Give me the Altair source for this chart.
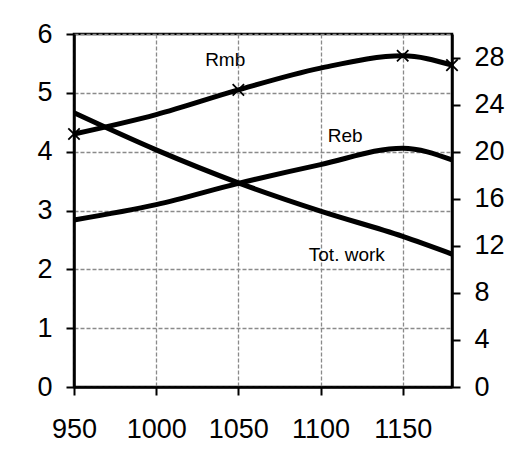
import altair as alt
import pandas as pd

years = [950, 1000, 1050, 1100, 1150, 1180]
rmb = [4.30, 4.63, 5.05, 5.42, 5.63, 5.47]
reb = [2.84, 3.10, 3.46, 3.78, 4.06, 3.86]
tot_work = [23.3, 20.15, 17.35, 14.95, 12.8, 11.3]  # right axis units

marker_years = [950, 1050, 1150, 1180]
marker_rmb = [4.30, 5.05, 5.63, 5.47]

label_text = ["Rmb", "Reb", "Tot. work"]
label_x = [1042, 1115, 1116]
label_y = [5.46, 4.17, 2.15]

x_ticks = [950, 1000, 1050, 1100, 1150]
left_ticks = [0, 1, 2, 3, 4, 5, 6]
right_ticks = [0, 4, 8, 12, 16, 20, 24, 28]

FONT = "Liberation Sans"

df_left = pd.DataFrame(
    {"year": years * 2, "value": rmb + reb, "series": ["Rmb"] * 6 + ["Reb"] * 6}
)
df_right = pd.DataFrame({"year": years, "value": tot_work})
df_mark = pd.DataFrame({"year": marker_years, "value": marker_rmb})
df_lab = pd.DataFrame({"year": label_x, "value": label_y, "text": label_text})

xscale = alt.Scale(domain=[950, 1180], nice=False, zero=False)
yleft = alt.Scale(domain=[0, 6], nice=False)
yright = alt.Scale(domain=[0, 30], nice=False)

common = dict(
    title=None, domainColor="black", domainWidth=2.5, tickColor="black",
    tickWidth=2, tickSize=8, labelFont=FONT, labelFontSize=27, labelColor="black",
    labelFlush=False, labelOverlap=False, format="d",
)

xaxis = alt.Axis(
    values=x_ticks, grid=True, gridDash=[4, 2], gridColor="#8a8a8a",
    gridWidth=1.3, labelPadding=21, **common,
)
yaxis_left = alt.Axis(
    values=left_ticks, grid=True, gridDash=[4, 2], gridColor="#8a8a8a",
    gridWidth=1.3, labelPadding=14, **common,
)
yaxis_right = alt.Axis(
    values=right_ticks, grid=False, orient="right", labelPadding=14, **common,
)

lines_left = alt.Chart(df_left).mark_line(
    color="black", strokeWidth=5, interpolate="monotone"
).encode(
    x=alt.X("year:Q", scale=xscale, axis=xaxis),
    y=alt.Y("value:Q", scale=yleft, axis=yaxis_left),
    detail="series:N",
)

markers = alt.Chart(df_mark).mark_point(
    shape="M-1,-1L1,1M1,-1L-1,1", color="black", size=130, strokeWidth=1.8,
    filled=False, opacity=1,
).encode(
    x=alt.X("year:Q", scale=xscale),
    y=alt.Y("value:Q", scale=yleft),
)

labels = alt.Chart(df_lab).mark_text(
    font=FONT, fontSize=19, color="black", align="center", baseline="alphabetic"
).encode(
    x=alt.X("year:Q", scale=xscale),
    y=alt.Y("value:Q", scale=yleft),
    text="text:N",
)

left = alt.layer(lines_left, markers, labels)

right = alt.Chart(df_right).mark_line(
    color="black", strokeWidth=5, interpolate="monotone"
).encode(
    x=alt.X("year:Q", scale=xscale),
    y=alt.Y("value:Q", scale=yright, axis=yaxis_right),
)

chart = (
    alt.layer(left, right)
    .resolve_scale(y="independent")
    .properties(
        width=378, height=353,
        autosize=alt.AutoSizeParams(type="none"),
        padding={"left": 66, "top": 26, "right": 60, "bottom": 60},
        background="white",
    )
    .configure_view(stroke="black", strokeWidth=2.5)
)

chart.save("out.html", embed_options={"renderer": "svg", "actions": False})
